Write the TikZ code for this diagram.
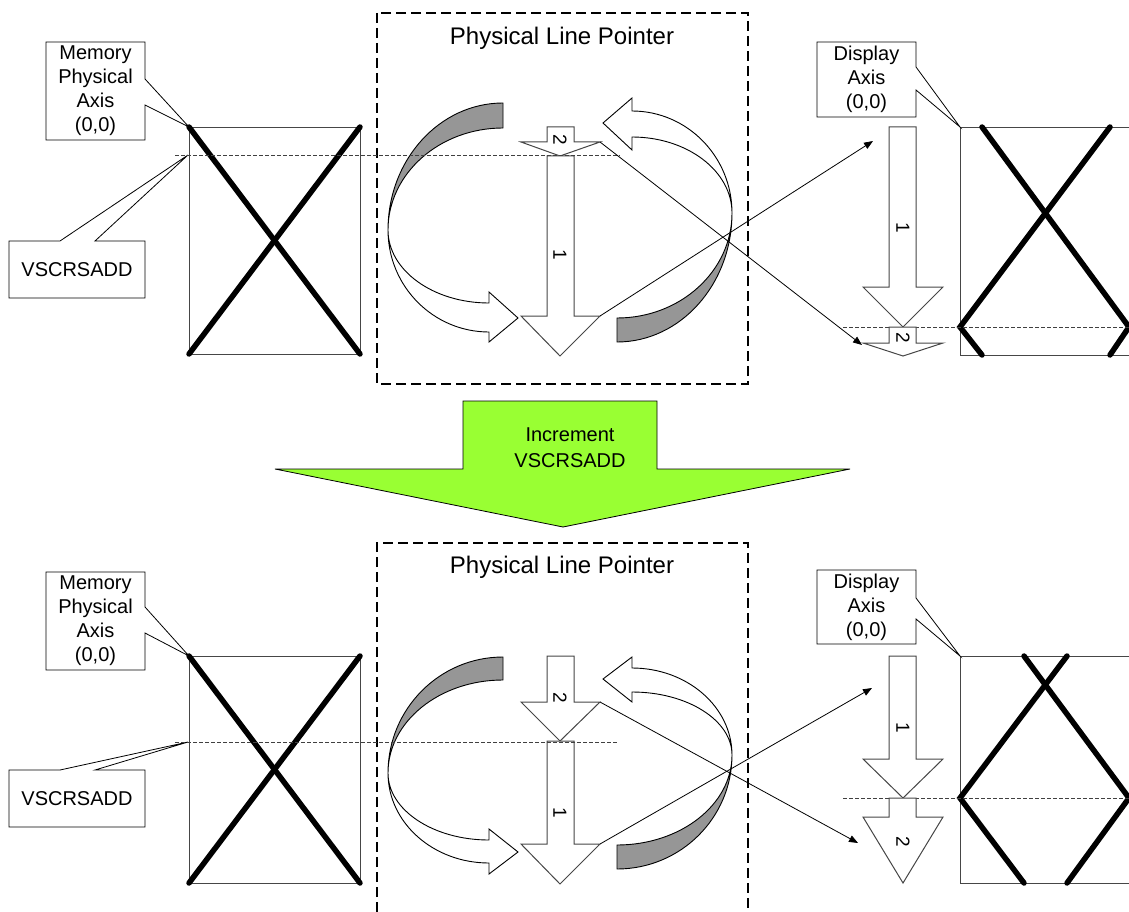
\documentclass[tikz,border=0pt]{standalone}
\usepackage{fontspec}
\setmainfont{Liberation Sans}
\usetikzlibrary{arrows.meta}
\definecolor{bandgray}{RGB}{150,150,150}
\definecolor{limegreen}{RGB}{153,255,51}
\definecolor{edgegray}{RGB}{70,70,70}
\begin{document}
\begin{tikzpicture}[x=1pt,y=-1pt,line join=miter,
  frame/.style={draw=edgegray,line width=0.9pt},
  xline/.style={line width=5.5pt,line cap=round},
  vdash/.style={draw=black!75,line width=0.8pt,dash pattern=on 4pt off 2pt},
  boxdash/.style={line width=1.1pt,dash pattern=on 10pt off 5pt},
  callout/.style={draw=black,line width=0.8pt,fill=white},
  lbl/.style={font=\fontsize{20}{24}\selectfont,align=center,inner sep=0pt},
  ttl/.style={font=\fontsize{24}{28}\selectfont,inner sep=0pt},
  blockarrow/.style={draw=edgegray,fill=white,line width=1pt},
  band/.style={draw=black,line width=0.9pt,fill=bandgray},
  wband/.style={draw=black,line width=0.9pt,fill=white},
  conn/.style={line width=0.8pt,-{Triangle[length=9pt,width=7pt]}},
  numlbl/.style={font=\fontsize{19}{20}\selectfont,rotate=-90,inner sep=0pt}]
\useasboundingbox (0,0) rectangle (1129,912);

% ================= TOP PANEL =================
\draw[frame] (189,127) rectangle (360,354);
\draw[xline] (189,127) -- (360,354);
\draw[xline] (360,127) -- (189,354);
\draw[callout] (46,42) -- (145,42) -- (145,79) -- (189,127) -- (145,105) -- (145,140) -- (46,140) -- cycle;
\node[lbl] (memT) at (95.5,91) {Memory\\Physical\\Axis\\(0,0)};
\draw[callout] (9,241) -- (60,241) -- (188,155) -- (95,241) -- (145,241) -- (145,298) -- (9,298) -- cycle;
\node[lbl] (vsT) at (77,270) {VSCRSADD};

\draw[boxdash] (377,13) rectangle (748,384);
\node[ttl] (plpT) at (562,38) {Physical Line Pointer};

\filldraw[band] (503,103) arc[start angle=90,end angle=180,x radius=115pt,y radius=127pt]
  arc[start angle=180,end angle=90,x radius=115pt,y radius=102pt] -- cycle;
\filldraw[wband] (388,230) arc[start angle=180,end angle=270,x radius=101pt,y radius=102pt]
  -- (489,342) -- (518,318) -- (489,292) -- (489,303)
  arc[start angle=270,end angle=180,x radius=101pt,y radius=73pt] -- cycle;
\filldraw[band] (617,342) arc[start angle=270,end angle=360,x radius=115pt,y radius=129pt]
  arc[start angle=0,end angle=-90,x radius=115pt,y radius=105pt] -- cycle;
\filldraw[wband] (732,213) arc[start angle=0,end angle=90,x radius=100pt,y radius=102pt]
  -- (632,98) -- (603,123) -- (632,150) -- (632,137)
  arc[start angle=90,end angle=0,x radius=100pt,y radius=76pt] -- cycle;

\draw[blockarrow] (547,127) -- (574,127) -- (574,142) -- (600,142) -- (560,156) -- (521,142) -- (547,142) -- cycle;
\draw[blockarrow] (547,156) -- (574,156) -- (574,316) -- (600,316) -- (560,356) -- (521,316) -- (547,316) -- cycle;
\node[numlbl] (p2T) at (560,140) {2};
\node[numlbl] (p1T) at (560,255) {1};
\coordinate (m2T) at (600,142);
\coordinate (m1T) at (600,316);

\draw[vdash] (175,155) -- (620,155);

\draw[frame] (960,127) rectangle (1140,355);
\draw[xline] (982,127) -- (1129,327) -- (1110,355);
\draw[xline] (1110,127) -- (960,327) -- (982,355);
\draw[vdash] (843,327) -- (1129,327);
\draw[callout] (817,42) -- (916,42) -- (916,67) -- (960,127) -- (916,90) -- (916,117) -- (817,117) -- cycle;
\node[lbl] (dispT) at (866.5,79) {Display\\Axis\\(0,0)};
\draw[blockarrow] (889,127) -- (916,127) -- (916,287) -- (943,287) -- (903,327) -- (863,287) -- (889,287) -- cycle;
\draw[blockarrow] (889,327) -- (916,327) -- (916,343) -- (943,343) -- (903,356) -- (863,343) -- (889,343) -- cycle;
\node[numlbl] (d1T) at (903,228) {1};
\node[numlbl] (d2T) at (903,338) {2};
\coordinate (t1T) at (873,141);
\coordinate (t2T) at (862,345);

\draw[conn] (m2T) -- (t2T);
\draw[conn] (m1T) -- (t1T);

% ================= GREEN ARROW =================
\filldraw[fill=limegreen,draw=black,line width=0.8pt]
  (463,401) -- (657,401) -- (657,469) -- (850,469) -- (563,527) -- (275,469) -- (463,469) -- cycle;
\node[lbl,font=\fontsize{20}{26}\selectfont] (inc) at (570,448) {Increment\\VSCRSADD};

% ================= BOTTOM PANEL =================
\draw[frame] (189,656) rectangle (360,883);
\draw[xline] (189,656) -- (360,883);
\draw[xline] (360,656) -- (189,883);
\draw[callout] (46,572) -- (145,572) -- (145,607) -- (189,656) -- (145,633) -- (145,670) -- (46,670) -- cycle;
\node[lbl] (memB) at (95.5,621) {Memory\\Physical\\Axis\\(0,0)};
\draw[callout] (9,770) -- (60,770) -- (188,742) -- (95,770) -- (145,770) -- (145,827) -- (9,827) -- cycle;
\node[lbl] (vsB) at (77,798.5) {VSCRSADD};

\draw[boxdash] (377,912) -- (377,543) -- (748,543) -- (748,912);
\node[ttl] (plpB) at (562,567) {Physical Line Pointer};

\filldraw[band] (503,657) arc[start angle=90,end angle=180,x radius=115pt,y radius=116pt]
  arc[start angle=180,end angle=90,x radius=115pt,y radius=93pt] -- cycle;
\filldraw[wband] (388,773) arc[start angle=180,end angle=270,x radius=101pt,y radius=90pt]
  -- (489,874) -- (518,852) -- (489,829) -- (489,840)
  arc[start angle=270,end angle=180,x radius=101pt,y radius=67pt] -- cycle;
\filldraw[band] (617,869) arc[start angle=270,end angle=360,x radius=115pt,y radius=114pt]
  arc[start angle=0,end angle=-90,x radius=115pt,y radius=90pt] -- cycle;
\filldraw[wband] (732,755) arc[start angle=0,end angle=90,x radius=100pt,y radius=87pt]
  -- (632,657) -- (603,679) -- (632,702) -- (632,692)
  arc[start angle=90,end angle=0,x radius=100pt,y radius=63pt] -- cycle;

\draw[blockarrow] (547,656) -- (574,656) -- (574,702) -- (600,702) -- (560,741) -- (521,702) -- (547,702) -- cycle;
\draw[blockarrow] (547,741) -- (574,741) -- (574,844) -- (600,844) -- (560,884) -- (521,844) -- (547,844) -- cycle;
\node[numlbl] (p2B) at (560,698) {2};
\node[numlbl] (p1B) at (560,813) {1};
\coordinate (m2B) at (600,702);
\coordinate (m1B) at (600,844);

\draw[vdash] (175,742) -- (618,742);

\draw[frame] (960,656) rectangle (1140,883);
\draw[xline] (1024,656) -- (1129,798) -- (1067,883);
\draw[xline] (1067,656) -- (960,798) -- (1024,883);
\draw[vdash] (843,798) -- (1129,798);
\draw[callout] (817,570) -- (916,570) -- (916,598) -- (960,656) -- (916,619) -- (916,644) -- (817,644) -- cycle;
\node[lbl] (dispB) at (866.5,607) {Display\\Axis\\(0,0)};
\draw[blockarrow] (889,656) -- (916,656) -- (916,759) -- (943,759) -- (903,798) -- (863,759) -- (889,759) -- cycle;
\draw[blockarrow] (889,798) -- (916,798) -- (916,817) -- (943,817) -- (903,883) -- (863,817) -- (889,817) -- cycle;
\node[numlbl] (d1B) at (903,728) {1};
\node[numlbl] (d2B) at (903,842) {2};
\coordinate (t1B) at (872,688);
\coordinate (t2B) at (858,843);

\draw[conn] (m2B) -- (t2B);
\draw[conn] (m1B) -- (t1B);
\end{tikzpicture}
\end{document}
